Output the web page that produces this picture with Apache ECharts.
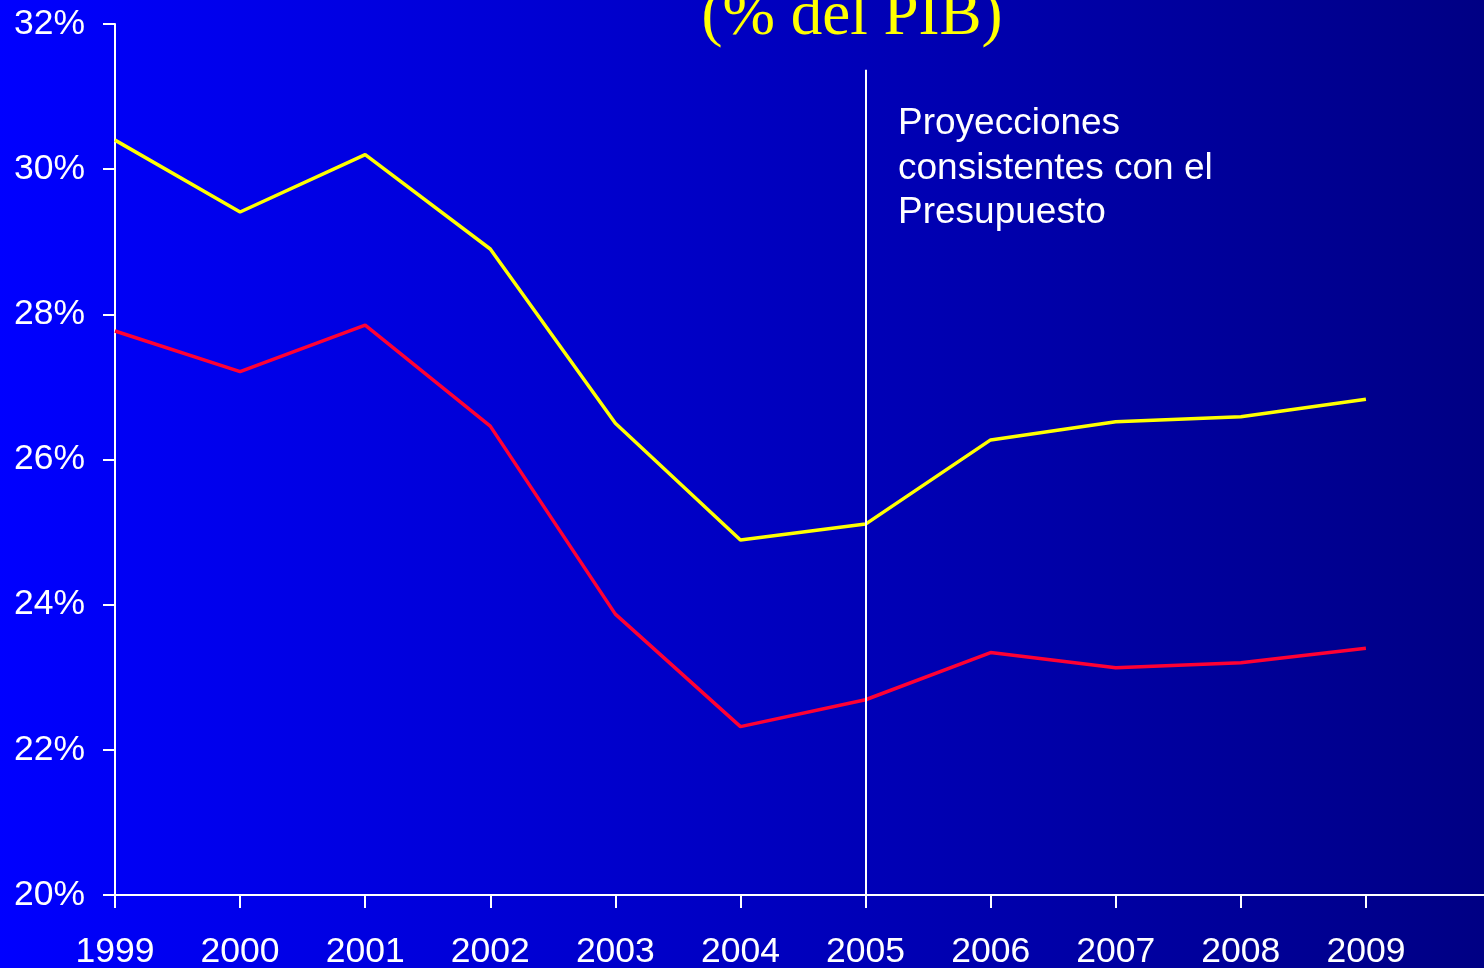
<!DOCTYPE html>
<html>
<head>
<meta charset="utf-8">
<script src="https://cdn.jsdelivr.net/npm/echarts@6/dist/echarts.min.js"></script>
<style>
html, body { margin: 0; padding: 0; }
#chart { width: 1484px; height: 968px; }
</style>
</head>
<body>
<div id="chart"></div>
<script>
var years = [1999, 2000, 2001, 2002, 2003, 2004, 2005, 2006, 2007, 2008, 2009];
var yellowVals = [30.40, 29.41, 30.20, 28.90, 26.50, 24.89, 25.11, 26.27, 26.52, 26.59, 26.83];
var redVals = [27.77, 27.21, 27.85, 26.46, 23.87, 22.32, 22.69, 23.34, 23.13, 23.20, 23.40];
var projYear = 2005;

function pairs(vals) {
    return years.map(function (y, i) { return [y, vals[i]]; });
}

var myChart = echarts.init(document.getElementById("chart"));
var option = {
    backgroundColor: new echarts.graphic.LinearGradient(0, 0, 1, 0, [
        { offset: 0, color: "#0000ff" },
        { offset: 1, color: "#000084" }
    ]),
    animation: false,
    title: {
        text: "(% del PIB)",
        left: 847,
        textAlign: "center",
        top: -19,
        textStyle: {
            color: "#ffff00",
            fontFamily: "Liberation Serif",
            fontWeight: "normal",
            fontSize: 63
        }
    },
    grid: { left: 115, right: -2, top: 24, bottom: 73, outerBoundsMode: "none", containLabel: false },
    xAxis: {
        type: "value",
        min: 1999,
        max: 2009.96,
        interval: 1,
        splitLine: { show: false },
        axisLine: { lineStyle: { color: "#ffffff", width: 2 } },
        axisTick: { length: 13, lineStyle: { color: "#ffffff", width: 2 } },
        axisLabel: {
            color: "#ffffff",
            fontFamily: "Liberation Sans",
            fontSize: 35.5,
            margin: 39,
            formatter: function (v) { return v % 1 === 0 ? String(v) : ""; }
        }
    },
    yAxis: {
        type: "value",
        min: 20,
        max: 32,
        interval: 2,
        splitLine: { show: false },
        axisLine: { show: true, lineStyle: { color: "#ffffff", width: 2 } },
        axisTick: { show: true, length: 12, lineStyle: { color: "#ffffff", width: 2 } },
        axisLabel: {
            color: "#ffffff",
            fontFamily: "Liberation Sans",
            fontSize: 35.5,
            margin: 30,
            formatter: "{value}%"
        }
    },
    series: [{
        type: "line",
        data: pairs(yellowVals),
        symbol: "none",
        lineStyle: { color: "#ffff00", width: 3.5 },
        markLine: {
            symbol: "none",
            silent: true,
            label: { show: false },
            lineStyle: { color: "#ffffff", width: 2, type: "solid" },
            data: [[{ coord: [projYear, 31.37] }, { coord: [projYear, 20] }]]
        }
    }, {
        type: "line",
        data: pairs(redVals),
        symbol: "none",
        lineStyle: { color: "#ff0033", width: 3.5 }
    }],
    graphic: [{
        type: "text",
        left: 898,
        top: 102,
        style: {
            text: "Proyecciones\nconsistentes con el\nPresupuesto",
            fill: "#ffffff",
            font: "37px 'Liberation Sans'",
            lineHeight: 44.5
        }
    }]
};
myChart.setOption(option);
</script>
</body>
</html>
